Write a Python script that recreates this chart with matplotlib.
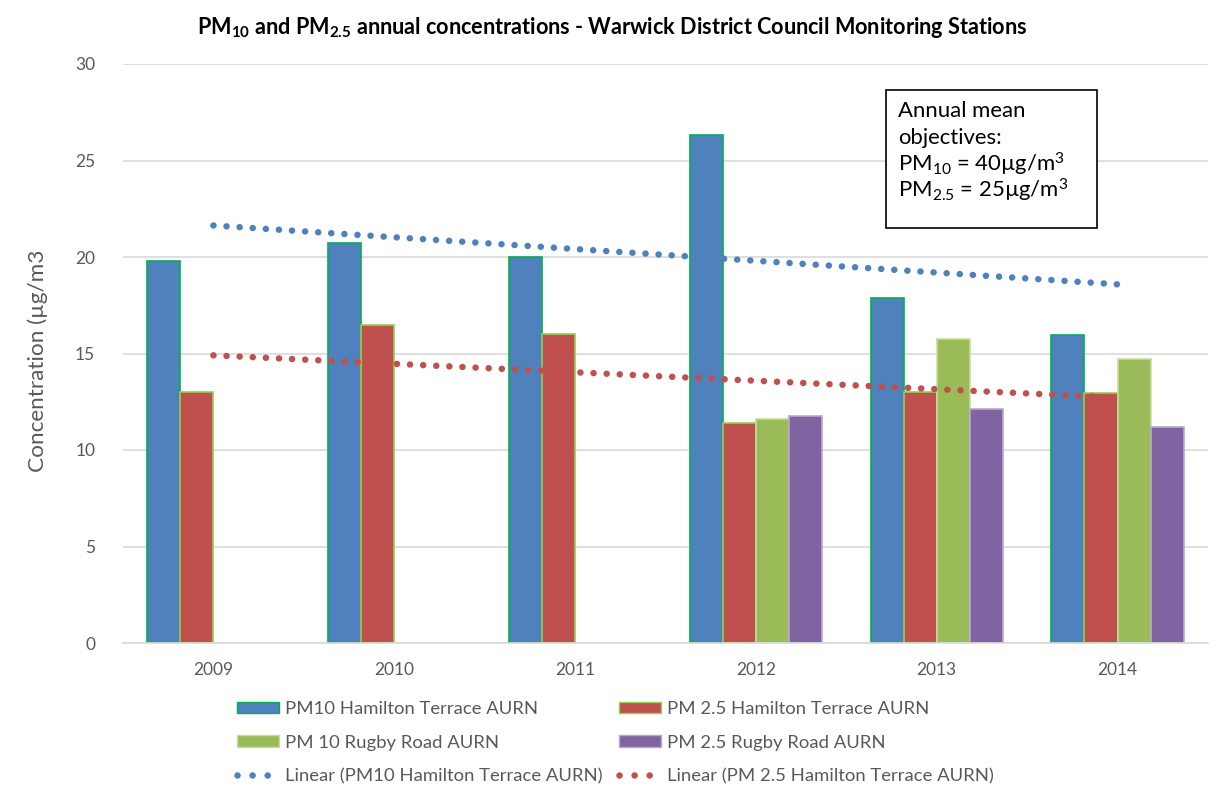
import numpy as np
import matplotlib
matplotlib.use("Agg")
import matplotlib.pyplot as plt
from matplotlib.patches import Rectangle, Patch
from matplotlib.lines import Line2D

plt.rcParams['font.family'] = ['Lato', 'DejaVu Sans']
plt.rcParams['mathtext.fontset'] = 'custom'
plt.rcParams['mathtext.rm'] = 'Lato'
plt.rcParams['mathtext.it'] = 'Lato:italic'
plt.rcParams['mathtext.bf'] = 'Lato:bold'

years = ['2009', '2010', '2011', '2012', '2013', '2014']
pm10_hamilton = [19.8, 20.7, 20.0, 26.3, 17.9, 15.95]
pm25_hamilton = [13.0, 16.5, 16.0, 11.4, 13.0, 12.95]
pm10_rugby = [np.nan, np.nan, np.nan, 11.6, 15.75, 14.7]
pm25_rugby = [np.nan, np.nan, np.nan, 11.75, 12.1, 11.2]

labels = ['PM10 Hamilton Terrace AURN', 'PM 2.5 Hamilton Terrace AURN',
          'PM 10 Rugby Road AURN', 'PM 2.5 Rugby Road AURN']
colors = ['#4F81BD', '#C0504D', '#9BBB59', '#8064A2']
edges = ['#00B050', '#92D050', '#C6DCA0', '#B8A8D0']

fig = plt.figure(figsize=(12.25, 8), dpi=100)
ax = fig.add_axes([123/1225, 157/800, 1085/1225, (643-64)/800])

x = np.arange(len(years))
w = 0.183
series = [pm10_hamilton, pm25_hamilton, pm10_rugby, pm25_rugby]
for i, (vals, c, ec) in enumerate(zip(series, colors, edges)):
    ax.bar(x + (i - 1.5) * w, vals, width=w, color=c, edgecolor=ec, linewidth=1.2, zorder=2)

# linear trend lines
xt = x + 1
for vals, c in [(pm10_hamilton, '#4F81BD'), (pm25_hamilton, '#C0504D')]:
    k, b = np.polyfit(xt, vals, 1)
    ax.plot(x, k * xt + b, color=c, lw=4.7, linestyle=(0, (0.01, 2.0)),
            dash_capstyle='round', zorder=3)

ax.set_xlim(-0.5, 5.5)
ax.set_ylim(0, 30)
ax.set_yticks(range(0, 31, 5))
ax.set_xticks(x)
ax.set_xticklabels(years)
ax.yaxis.grid(True, color='#D9D9D9', lw=1.2, zorder=0)
ax.set_axisbelow(True)
for s in ['top', 'right', 'left']:
    ax.spines[s].set_visible(False)
ax.spines['bottom'].set_color('#D9D9D9')
ax.spines['bottom'].set_linewidth(1.2)
ax.tick_params(axis='both', length=0, labelsize=12.5, labelcolor='#595959')
ax.tick_params(axis='y', pad=20)
ax.tick_params(axis='x', pad=14)

fig.text(612/1225, 1 - 28/800,
         r'PM$_{\mathbf{10}}$ and PM$_{\mathbf{2.5}}$ annual concentrations - Warwick District Council Monitoring Stations',
         ha='center', va='center', fontsize=15.6, fontweight='bold', color='black')

fig.text(38/1225, 1 - 361/800, 'Concentration (µg/m3', rotation=90, ha='center', va='center',
         fontsize=16.2, color='#595959')

# annotation box
fig.add_artist(Rectangle((886/1225, 1 - 228/800), (1097-886)/1225, (228-90)/800,
                         transform=fig.transFigure, fill=True, facecolor='white',
                         edgecolor='black', lw=1.2, zorder=5))
box_lines = ['Annual mean', 'objectives:', r'PM$_{10}$ = 40µg/m$^{3}$', r'PM$_{2.5}$ = 25µg/m$^{3}$']
for j, t in enumerate(box_lines):
    fig.text(898/1225, 1 - (111 + 26.5*j)/800, t, ha='left', va='center', fontsize=15.9,
             color='black', zorder=6)

leg_dots = (0, (0.01, 2.3))
handles = [Patch(facecolor=colors[0], edgecolor=edges[0]),
           Patch(facecolor=colors[2], edgecolor=edges[2]),
           Line2D([], [], color='#4F81BD', lw=4.7, linestyle=leg_dots, dash_capstyle='round'),
           Patch(facecolor=colors[1], edgecolor=edges[1]),
           Patch(facecolor=colors[3], edgecolor=edges[3]),
           Line2D([], [], color='#C0504D', lw=4.7, linestyle=leg_dots, dash_capstyle='round')]
leg_labels = [labels[0], labels[2], 'Linear (PM10 Hamilton Terrace AURN)',
              labels[1], labels[3], 'Linear (PM 2.5 Hamilton Terrace AURN)']
leg = fig.legend(handles, leg_labels, ncol=2, loc='upper left',
                 bbox_to_anchor=(237/1225, 1 - 701/800), frameon=False,
                 fontsize=13.3, handlelength=2.27, handleheight=0.6, handletextpad=0.32,
                 columnspacing=0.9, labelspacing=0.95, borderaxespad=0, borderpad=0)
for t in leg.get_texts():
    t.set_color('#595959')

fig.savefig('out.png', dpi=100, facecolor='white')
